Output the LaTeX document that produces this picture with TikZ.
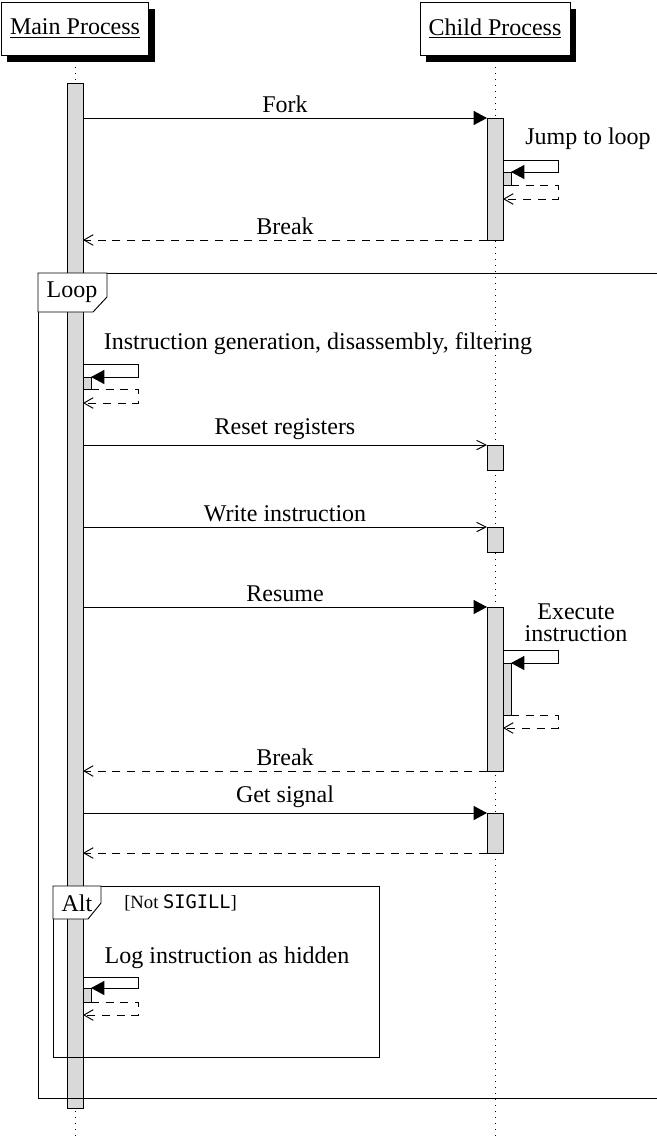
\documentclass[tikz,border=0pt]{standalone}
\usepackage{fontspec}
\setmainfont{Liberation Serif}
\setmonofont{DejaVu Sans Mono}
\usepackage{tikz}
\usetikzlibrary{arrows.meta, backgrounds, calc}

\begin{document}
\begin{tikzpicture}[x=0.75pt,y=0.75pt,yscale=-1,xscale=1,
  every node/.style={font=\fontsize{18}{16.5}\selectfont},
  lifehead/.style={draw, fill=white, line width=0.7pt, inner xsep=6.5pt, minimum height=39.75pt},
  lifeline/.style={line width=0.5pt, dash pattern=on 0.5pt off 4pt},
  actbar/.style={draw, fill=gray!30, line width=0.7pt, inner sep=0pt, outer sep=0pt, minimum width=12pt},
  subbar/.style={actbar, minimum width=6pt, anchor=north west},
  call/.style={line width=0.7pt, -{Triangle[length=10pt,width=10.5pt]}},
  async/.style={line width=0.7pt, -{Straight Barb[length=7pt,width=7pt]}},
  reply/.style={line width=0.7pt, dash pattern=on 6pt off 5pt, -{Straight Barb[length=7pt,width=8pt]}},
  fragbox/.style={draw, line width=0.7pt, inner sep=0pt, outer sep=0pt, anchor=north west},
  fragtab/.style={draw, fill=white, line width=0.7pt}
]
\useasboundingbox (0,0) rectangle (657,1136);
\clip (0,0) rectangle (657,1136);

% Text Node
\node[lifehead] (mainhead) at (75,28.5) {\underline{Main Process}};
% Text Node
\node[lifehead] (childhead) at (495,28.5) {\underline{Child Process}};
\begin{scope}[on background layer]
\fill ($(mainhead.north west)+(6,7)$) rectangle ($(mainhead.south east)+(6,7)$);
\fill ($(childhead.north west)+(6,7)$) rectangle ($(childhead.south east)+(6,7)$);
\end{scope}

%Straight Lines
\coordinate (mainend) at (75,1136);
\coordinate (childend) at (495,1136);
\draw[lifeline] (mainhead.south) -- (mainend);
\draw[lifeline] (childhead.south) -- (childend);

%Shape: Rectangle
\node[actbar, anchor=north, minimum height=768.75pt] (mainact) at (75,83) {};
\node[actbar, anchor=north, minimum height=91.5pt] (forkact) at (495,118) {};
\node[actbar, anchor=north, minimum height=18.75pt] (resetact) at (495,445) {};
\node[actbar, anchor=north, minimum height=18.75pt] (writeact) at (495,527) {};
\node[actbar, anchor=north, minimum height=123pt] (resumeact) at (495,607) {};
\node[actbar, anchor=north, minimum height=30pt] (signalact) at (495,813) {};
\node[subbar, minimum height=9.75pt] (jumpact) at (503,172) {};
\node[subbar, minimum height=9pt] (genact) at (83,377) {};
\node[subbar, minimum height=39pt] (execact) at (503,663) {};
\node[subbar, minimum height=10.5pt] (logact) at (83,988) {};

%Straight Lines
\draw[call] (mainact.east |- forkact.north) -- (forkact.north west) node[midway, above] (forklabel) {Fork};
\draw[call] (jumpact.north west) ++(0,-12) -- ++(55,0) -- ++(0,12) -- (jumpact.north east);
\draw[reply] (jumpact.south east) -- ++(47,0) -- ++(0,14) -- ++(-55,0);
% Text Node
\node[anchor=base] (jumplabel) at (588,144) {Jump to loop};
\draw[reply] (forkact.south west) -- (mainact.east |- forkact.south) node[midway, above] (breaklabel) {Break};

%Straight Lines
\draw[call] (genact.north west) ++(0,-13) -- ++(55,0) -- ++(0,13) -- (genact.north east);
\draw[reply] (genact.south east) -- ++(47,0) -- ++(0,14) -- ++(-55,0);
% Text Node
\node[anchor=base] (genlabel) at (318,349) {Instruction generation, disassembly, filtering};

%Straight Lines
\draw[async] (mainact.east |- resetact.north) -- (resetact.north west) node[midway, above] (resetlabel) {Reset registers};
\draw[async] (mainact.east |- writeact.north) -- (writeact.north west) node[midway, above] (writelabel) {Write instruction};
\draw[call] (mainact.east |- resumeact.north) -- (resumeact.north west) node[midway, above] (resumelabel) {Resume};
\draw[call] (execact.north west) ++(0,-13) -- ++(55,0) -- ++(0,13) -- (execact.north east);
\draw[reply] (execact.south east) -- ++(47,0) -- ++(0,13) -- ++(-55,0);
% Text Node
\node[anchor=north, align=center, inner sep=0pt] (execlabel) at (576,604) {Execute\\instruction};
\draw[reply] (resumeact.south west) -- (mainact.east |- resumeact.south) node[midway, above] (rebreaklabel) {Break};
\draw[call] (mainact.east |- signalact.north) -- (signalact.north west) node[midway, above] (signallabel) {Get signal};
\draw[reply] (signalact.south west) -- (mainact.east |- signalact.south);

%Straight Lines
\draw[call] (logact.north west) ++(0,-11) -- ++(55,0) -- ++(0,11) -- (logact.north east);
\draw[reply] (logact.south east) -- ++(47,0) -- ++(0,13) -- ++(-55,0);
% Text Node
\node[anchor=base] (loglabel) at (227,963) {Log instruction as hidden};

%Shape: Frame
\node[fragbox, minimum width=496.5pt, minimum height=618.75pt] (loopframe) at (38,273) {};
\draw[fragtab] (loopframe.north west) -- ++(69,0) -- ++(0,24) -- ++(-14,15) -- ++(-55,0) -- cycle;
\path (loopframe.north west) ++(34,19) node (looplabel) {Loop};

%Shape: Frame
\node[fragbox, minimum width=244.5pt, minimum height=128.25pt] (altframe) at (53,886) {};
\draw[fragtab] (altframe.north west) -- ++(48,0) -- ++(0,17) -- ++(-13,16) -- ++(-35,0) -- cycle;
\path (altframe.north west) ++(24,17) node (altlabel) {Alt};
\path (altframe.north west) ++(71,17) node[anchor=west, inner sep=0pt, font=\fontsize{14}{16}\selectfont] (altguard) {[Not \texttt{SIGILL}]};

\end{tikzpicture}
\end{document}
